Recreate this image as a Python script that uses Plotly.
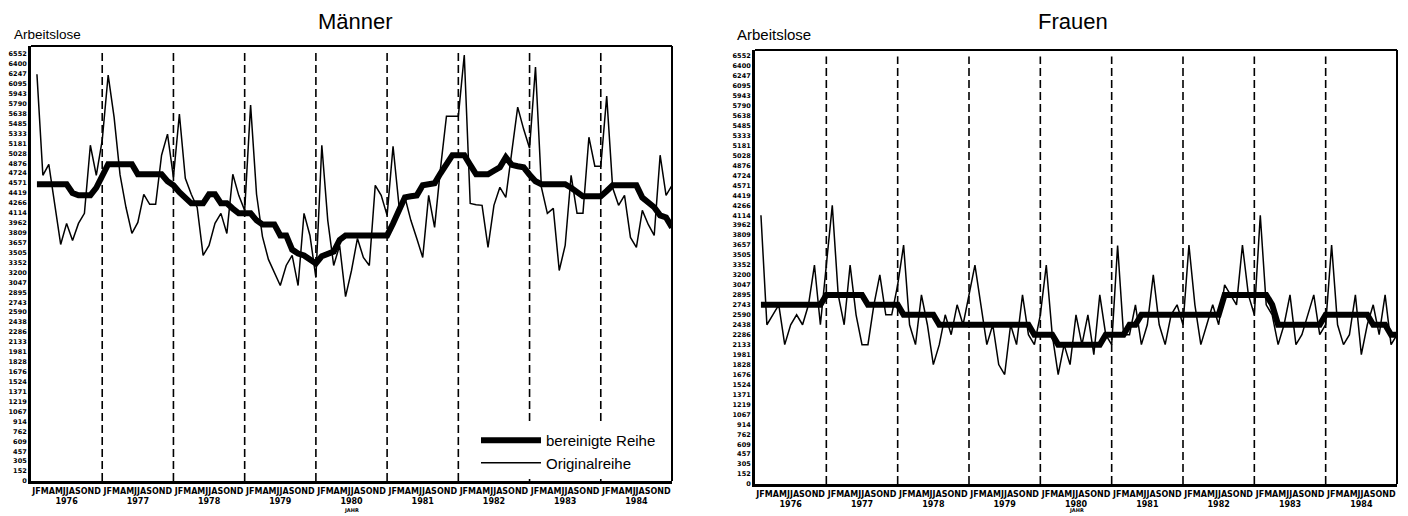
import plotly.graph_objects as go

# ---------------- data ----------------
years = ["1976", "1977", "1978", "1979", "1980", "1981", "1982", "1983", "1984"]
month_string = "JFMAMJJASOND"

y_tick_labels = ["0", "152", "305", "457", "609", "762", "914", "1067", "1219", "1371",
                 "1524", "1676", "1828", "1981", "2133", "2286", "2438", "2590", "2743",
                 "2895", "3047", "3200", "3352", "3505", "3657", "3809", "3962", "4114",
                 "4266", "4419", "4571", "4724", "4876", "5028", "5181", "5333", "5485",
                 "5638", "5790", "5943", "6095", "6247", "6400", "6552"]

maenner_original = [
    6240, 4691, 4860, 4250, 3630, 3953, 3691, 3953, 4107, 5152, 4691, 5229,
    6229, 5583, 4700, 4200, 3799, 3968, 4399, 4245, 4245, 4999, 5322, 4660,
    5629, 4645, 4400, 4199, 3461, 3614, 3953, 4107, 3799, 4706, 4383, 4153,
    5768, 4400, 3750, 3400, 3200, 2999, 3307, 3461, 2999, 4107, 3768, 3122,
    5152, 4000, 3307, 3614, 2830, 3230, 3722, 3430, 3307, 4537, 4383, 4076,
    5137, 4230, 4353, 4000, 3722, 3430, 4383, 3891, 4800, 5598, 5598, 5598,
    6537, 4260, 4240, 4230, 3584, 4230, 4506, 4353, 5045, 5737, 5400, 5106,
    6352, 4506, 4107, 4184, 3230, 3614, 4691, 4107, 4107, 5275, 4830, 4830,
    5906, 4500, 4230, 4383, 3737, 3584, 4153, 3937, 3768, 4999, 4383, 4537]

maenner_bereinigt = [
    4553, 4553, 4553, 4553, 4553, 4553, 4420, 4383, 4383, 4383, 4500, 4700,
    4860, 4860, 4860, 4860, 4860, 4706, 4706, 4706, 4706, 4706, 4600, 4537,
    4430, 4350, 4260, 4260, 4260, 4399, 4399, 4260, 4260, 4180, 4107, 4107,
    4107, 4000, 3937, 3937, 3937, 3768, 3768, 3550, 3491, 3461, 3400, 3337,
    3450, 3491, 3520, 3700, 3768, 3768, 3768, 3768, 3768, 3768, 3768, 3768,
    3950, 4150, 4353, 4370, 4383, 4537, 4555, 4568, 4722, 4860, 4999, 4999,
    4999, 4850, 4706, 4706, 4706, 4760, 4814, 4968, 4850, 4830, 4814, 4700,
    4600, 4553, 4553, 4553, 4553, 4553, 4500, 4420, 4368, 4368, 4368, 4368,
    4450, 4537, 4537, 4537, 4537, 4537, 4350, 4260, 4200, 4076, 4045, 3891]

frauen_original = [
    4114, 2438, 2590, 2743, 2133, 2438, 2590, 2438, 2743, 3352, 2438, 3300,
    4266, 2895, 2438, 3352, 2590, 2133, 2133, 2743, 3200, 2590, 2590, 3047,
    3657, 2438, 2133, 2895, 2438, 1828, 2133, 2590, 2286, 2743, 2438, 2895,
    3352, 2743, 2133, 2438, 1828, 1676, 2438, 2133, 2895, 2286, 2133, 2590,
    3352, 2286, 1676, 2133, 1828, 2590, 2133, 2590, 1981, 2895, 2286, 2133,
    3650, 2286, 2286, 2743, 2133, 2438, 3200, 2438, 2133, 2590, 2743, 2438,
    3657, 2743, 2133, 2438, 2743, 2438, 3047, 2895, 2743, 3657, 2895, 2590,
    4114, 2743, 2590, 2133, 2438, 2895, 2133, 2286, 2590, 2895, 2286, 2438,
    3657, 2438, 2133, 2286, 2895, 1981, 2438, 2743, 2286, 2895, 2133, 2286]

frauen_bereinigt = [
    2743, 2743, 2743, 2743, 2743, 2743, 2743, 2743, 2743, 2743, 2743, 2895,
    2895, 2895, 2895, 2895, 2895, 2895, 2743, 2743, 2743, 2743, 2743, 2743,
    2590, 2590, 2590, 2590, 2590, 2590, 2438, 2438, 2438, 2438, 2438, 2438,
    2438, 2438, 2438, 2438, 2438, 2438, 2438, 2438, 2438, 2438, 2286, 2286,
    2286, 2286, 2133, 2133, 2133, 2133, 2133, 2133, 2133, 2133, 2286, 2286,
    2286, 2286, 2438, 2438, 2590, 2590, 2590, 2590, 2590, 2590, 2590, 2590,
    2590, 2590, 2590, 2590, 2590, 2590, 2895, 2895, 2895, 2895, 2895, 2895,
    2895, 2895, 2743, 2438, 2438, 2438, 2438, 2438, 2438, 2438, 2438, 2590,
    2590, 2590, 2590, 2590, 2590, 2590, 2590, 2438, 2438, 2438, 2286, 2286]

legend_labels = ["bereinigte Reihe", "Originalreihe"]
panel_titles = ["Männer", "Frauen"]
y_title = "Arbeitslose"
x_title = "JAHR"

# ---------------- figure ----------------
OFF = 8                 # default body margin of the html page
FW, FH = 1400, 508


def px_x(p):
    return (p - OFF) / FW


def px_y(p):
    return (FH - (p - OFF)) / FH


n = len(maenner_original)
xs = list(range(n))
tick_vals_y = [float(t) for t in y_tick_labels]
year_pos = [12 * i + 5 for i in range(len(years))]
year_text = [month_string + "<br>" + y for y in years]

panels = [
    dict(x0=31, x1=672, ytop=46, ybot=481, y6552=54, title_cx=355, ytitle_x=12, ytitle_size=13.5),
    dict(x0=755, x1=1397, ytop=50, ybot=484, y6552=56, title_cx=1073, ytitle_x=735, ytitle_size=15),
]
series = [(maenner_bereinigt, maenner_original), (frauen_bereinigt, frauen_original)]

fig = go.Figure()
tick_font = dict(family="DejaVu Sans", size=6.5, color="black", weight="bold")
xtick_font = dict(family="DejaVu Sans", size=8, color="black", weight="bold")

for k, (p, (adj, orig)) in enumerate(zip(panels, series)):
    suffix = "" if k == 0 else "2"
    fig.add_trace(go.Scatter(x=xs, y=adj, mode="lines", name=legend_labels[0],
                             line=dict(color="black", width=6),
                             xaxis="x" + suffix, yaxis="y" + suffix, showlegend=(k == 0)))
    fig.add_trace(go.Scatter(x=xs, y=orig, mode="lines", name=legend_labels[1],
                             line=dict(color="black", width=1.5),
                             xaxis="x" + suffix, yaxis="y" + suffix, showlegend=(k == 0)))

    span_px = p["ybot"] - p["ytop"]
    ytop_val = 6552 * span_px / (p["ybot"] - p["y6552"])
    fig.update_layout(**{
        "xaxis" + suffix: dict(domain=[px_x(p["x0"]), px_x(p["x1"])], range=[-1, n - 1],
                               showline=True, linewidth=3, linecolor="black",
                               showgrid=False, zeroline=False, ticks="", automargin=False,
                               tickvals=year_pos, ticktext=year_text, tickangle=0,
                               tickfont=xtick_font, anchor="y" + suffix, fixedrange=True),
        "yaxis" + suffix: dict(domain=[px_y(p["ybot"]), px_y(p["ytop"])], range=[0, ytop_val],
                               showline=True, linewidth=3, linecolor="black",
                               showgrid=False, zeroline=False, ticks="", automargin=False,
                               tickvals=tick_vals_y, ticktext=y_tick_labels,
                               tickfont=tick_font, anchor="x" + suffix, fixedrange=True),
    })

    xref = "x" + suffix
    yref_dom = "y" + suffix + " domain"
    for yb in range(1, len(years)):
        fig.add_shape(type="line", xref=xref, yref=yref_dom, x0=12 * yb - 1, x1=12 * yb - 1,
                      y0=0, y1=0.985, line=dict(color="black", width=1.6, dash="8px,4px"))
    fig.add_shape(type="line", xref=xref + " domain", yref=yref_dom, x0=0, x1=1, y0=1, y1=1,
                  line=dict(color="black", width=2))
    fig.add_shape(type="line", xref=xref + " domain", yref=yref_dom, x0=1, x1=1, y0=0, y1=1,
                  line=dict(color="black", width=2))

    fig.add_annotation(x=12 * 4 + 5, xref=xref, y=px_y(510), yref="paper", text=x_title,
                       xanchor="center", yanchor="middle", showarrow=False,
                       font=dict(family="DejaVu Sans", size=5, color="black", weight="bold"))
    fig.add_annotation(x=px_x(p["title_cx"]), xref="paper", y=px_y(22), yref="paper",
                       text=panel_titles[k], xanchor="center", yanchor="middle", showarrow=False,
                       font=dict(family="Liberation Sans", size=22, color="black"))
    fig.add_annotation(x=px_x(p["ytitle_x"]), xref="paper", y=px_y(34), yref="paper",
                       text=y_title, xanchor="left", yanchor="middle", showarrow=False,
                       font=dict(family="Liberation Sans", size=p["ytitle_size"], color="black"))

fig.update_layout(
    width=FW, height=FH, margin=dict(l=0, r=0, t=0, b=0, autoexpand=False),
    paper_bgcolor="white", plot_bgcolor="white",
    legend=dict(x=px_x(476), y=px_y(424), xanchor="left", yanchor="top",
                font=dict(family="Liberation Sans", size=15, color="black"),
                bgcolor="white", itemwidth=60, tracegroupgap=0),
)

fig.write_html("out.html")
